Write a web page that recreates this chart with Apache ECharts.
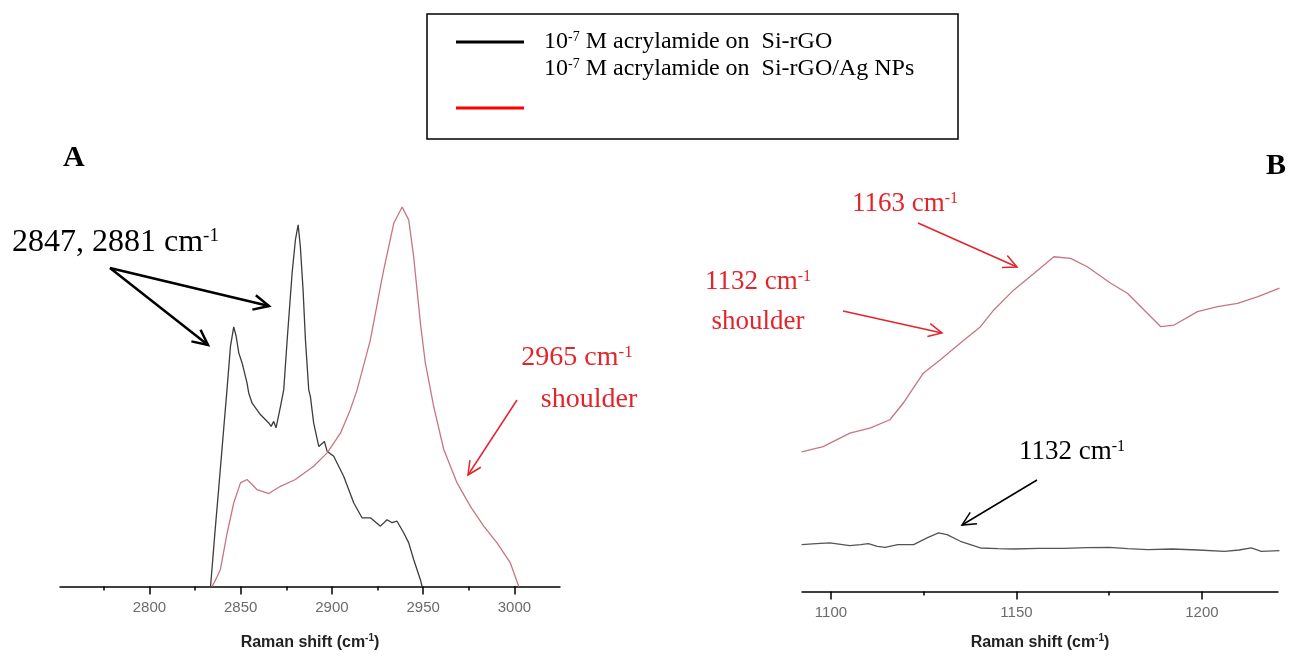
<!DOCTYPE html>
<html>
<head>
<meta charset="utf-8">
<script src="https://cdn.jsdelivr.net/npm/echarts@6/dist/echarts.min.js"></script>
<style>
html,body{margin:0;padding:0;background:#fff;}
#chart{width:1297px;height:656px;}
</style>
</head>
<body>
<div id="chart"></div>
<script>
// ---------- DATA ----------
// Panel A (2750-3025 cm-1)
var aTicks = [2800, 2850, 2900, 2950, 3000];
var aMinorTicks = [2775, 2825, 2875, 2925, 2975];
var aBlackX = [2833.5, 2836, 2838, 2840.7, 2842.5, 2844.4, 2846.2, 2847.5, 2849, 2850.8, 2853.5, 2854.4, 2856.3, 2860.8, 2865.4, 2866.7, 2868.1, 2869.4, 2871.8, 2873.6, 2875.5, 2878.2, 2880, 2881.5, 2882.7, 2884.2, 2885.5, 2887.3, 2888.2, 2890, 2892.8, 2895.9, 2897.4, 2901, 2906.5, 2912, 2916.5, 2921.1, 2926.6, 2930.2, 2933, 2935.7, 2939.4, 2942.1, 2944.8, 2948.5, 2949.4];
var aBlackY = [0, 14.8, 26, 41.5, 51.8, 63.2, 68.4, 66, 61.5, 58.9, 53.6, 51, 48.3, 45.3, 43.1, 42.2, 43.5, 41.8, 47.4, 51.8, 65, 82.6, 91.3, 95.3, 89.6, 78.2, 65, 51.8, 50.1, 43.1, 36.9, 38.2, 35.6, 34.3, 29, 22, 18.1, 18.1, 15.9, 17.6, 16.8, 17.2, 14.1, 11.5, 7.1, 1.8, 0];
var aRedX = [2834.4, 2836.5, 2838.9, 2842.6, 2846.2, 2849.9, 2853.5, 2856, 2859, 2865.4, 2871.8, 2880, 2890, 2897.4, 2904.7, 2910.1, 2913.8, 2921.1, 2926.6, 2928.4, 2933.9, 2938.5, 2942.1, 2944.8, 2948.5, 2951.2, 2955.8, 2961.3, 2968.6, 2975.9, 2983.2, 2990.5, 2997.8, 3002.4];
var aRedY = [0, 2, 4.5, 14.1, 22, 27.3, 28.2, 27, 25.5, 24.5, 26.4, 28.2, 31.7, 35.2, 40.4, 46.6, 51.8, 65, 79, 83.4, 95.7, 100, 96.6, 86.9, 69.4, 58.9, 47.4, 36.1, 27.3, 21.1, 15.9, 11.5, 6.2, 0];

// Panel B (1092-1220 cm-1)
var bTicks = [1100, 1150, 1200];
var bMinorTicks = [1125, 1175];
var bRedX = [1092.1, 1097.9, 1105.1, 1110.5, 1115.9, 1119.5, 1124.9, 1129.5, 1134.9, 1140.3, 1143.9, 1149.3, 1154.7, 1160.1, 1164.6, 1169.1, 1175.4, 1179.9, 1184.4, 1188.9, 1192.5, 1198.8, 1204.2, 1209.6, 1215.1, 1220.9];
var bRedY = [41.7, 43.3, 47.3, 48.8, 51.3, 56.3, 65.2, 69.2, 74.2, 79.1, 84.1, 90.1, 95.0, 100, 99.5, 97.0, 92.1, 89.1, 84.1, 79.1, 79.6, 83.6, 85.1, 86.1, 88.1, 90.6];
var bBlackX = [1092.1, 1096, 1099.7, 1105.1, 1108, 1110.1, 1112.5, 1114.6, 1118, 1122.3, 1125.9, 1129.0, 1131.3, 1134.9, 1140.3, 1145, 1149.3, 1156, 1162.8, 1169, 1175.0, 1180, 1185.4, 1192, 1199, 1206.1, 1210, 1213.3, 1216.0, 1220.9];
var bBlackY = [14.0, 14.3, 14.5, 13.7, 14.0, 14.3, 13.5, 13.2, 14.0, 14.0, 16.0, 17.5, 17.0, 15.0, 13.0, 12.8, 12.7, 12.9, 12.9, 13.1, 13.2, 12.8, 12.5, 12.7, 12.4, 12.0, 12.4, 13.0, 12.0, 12.2];

var xAxisName = 'Raman shift (cm';
var legendLabels = ['Si-rGO', 'Si-rGO/Ag NPs'];

// ---------- HELPERS ----------
function zip(xs, ys) { return xs.map(function (x, i) { return [x, ys[i]]; }); }
var SERIF = '"Liberation Serif", "Times New Roman", serif';
var SANS = '"Liberation Sans", Arial, sans-serif';
var RED_TXT = '#e3242b';
var RED_LINE = '#c77680';
var BLACK_LINE = '#3c3c3c';

function arrow(x1, y1, x2, y2, color, w, head, spread) {
  var ang = Math.atan2(y2 - y1, x2 - x1);
  var a1 = ang + Math.PI - spread, a2 = ang + Math.PI + spread;
  return [
    { type: 'line', shape: { x1: x1, y1: y1, x2: x2, y2: y2 }, style: { stroke: color, lineWidth: w } },
    { type: 'polyline', shape: { points: [[x2 + head * Math.cos(a1), y2 + head * Math.sin(a1)], [x2, y2], [x2 + head * Math.cos(a2), y2 + head * Math.sin(a2)]] },
      style: { stroke: color, lineWidth: w, fill: null } }
  ];
}
function supText(x, y, main, sup, size, color, align, weight) {
  return {
    type: 'text', x: x, y: y,
    style: {
      text: '{m|' + main + '}{s|' + sup + '}',
      textAlign: align || 'left', textVerticalAlign: 'middle',
      rich: {
        m: { fontFamily: SERIF, fontSize: size, fill: color, fontWeight: weight || 'normal', lineHeight: size },
        s: { fontFamily: SERIF, fontSize: Math.round(size * 0.6), fill: color, verticalAlign: 'top', lineHeight: Math.round(size * 0.6) }
      }
    }
  };
}
function plainText(x, y, txt, size, color, align, weight) {
  return { type: 'text', x: x, y: y,
    style: { text: txt, fontFamily: SERIF, fontSize: size, fill: color, fontWeight: weight || 'normal',
      textAlign: align || 'left', textVerticalAlign: 'middle' } };
}
function legendText(x, y, label, size) {
  return {
    type: 'text', x: x, y: y,
    style: {
      text: '{m|10}{s|-7}{m| M acrylamide on  ' + label + '}',
      textAlign: 'left', textVerticalAlign: 'middle',
      rich: {
        m: { fontFamily: SERIF, fontSize: size, fill: '#000', lineHeight: size },
        s: { fontFamily: SERIF, fontSize: Math.round(size * 0.6), fill: '#000', verticalAlign: 'top', lineHeight: Math.round(size * 0.6) }
      }
    }
  };
}

var nameRich = {
  a: { fontFamily: SANS, fontSize: 16, fontWeight: 'bold', color: '#222', lineHeight: 19 },
  s: { fontFamily: SANS, fontSize: 10, fontWeight: 'bold', color: '#222', verticalAlign: 'top', lineHeight: 10 }
};
var nameStr = '{a|' + xAxisName + '}{s|-1}{a|)}';

function mainAxis(grid, min, max, ticks, gap) {
  return {
    type: 'value', gridIndex: grid, min: min, max: max, position: 'bottom',
    axisLine: { show: true, onZero: false, lineStyle: { color: '#000', width: 1.5 } },
    axisTick: { show: true, customValues: ticks, length: 8, lineStyle: { color: '#000', width: 1.5 } },
    axisLabel: { customValues: ticks, color: '#6b6b6b', fontSize: 15, fontFamily: SANS, margin: 14,
      formatter: function (v) { return String(v); } },
    splitLine: { show: false },
    name: nameStr, nameLocation: 'middle', nameGap: gap,
    nameTextStyle: { rich: nameRich }
  };
}
function minorAxis(grid, min, max, ticks) {
  return {
    type: 'value', gridIndex: grid, min: min, max: max, position: 'bottom',
    axisLine: { show: false },
    axisTick: { show: true, customValues: ticks, length: 4, lineStyle: { color: '#000', width: 1.5 } },
    axisLabel: { show: false }, splitLine: { show: false }
  };
}

var graphics = [];
// legend box
graphics.push({ type: 'rect', shape: { x: 427, y: 14, width: 531, height: 125 }, style: { fill: null, stroke: '#000', lineWidth: 1.5 } });
graphics.push({ type: 'line', shape: { x1: 456, y1: 42, x2: 524, y2: 42 }, style: { stroke: '#000', lineWidth: 3 } });
graphics.push({ type: 'line', shape: { x1: 456, y1: 108, x2: 524, y2: 108 }, style: { stroke: '#ff0000', lineWidth: 3 } });
graphics.push(legendText(544, 42, legendLabels[0], 24));
graphics.push(legendText(544, 69, legendLabels[1], 24));
// panel letters
graphics.push(plainText(63, 158, 'A', 30, '#000', 'left', 'bold'));
graphics.push(plainText(1266, 166, 'B', 30, '#000', 'left', 'bold'));
// panel A annotations
graphics.push(supText(12, 243, '2847, 2881 cm', '-1', 32, '#000'));
graphics = graphics.concat(arrow(110, 268, 208, 345, '#000', 2.5, 17, 0.45));
graphics = graphics.concat(arrow(110, 268, 269, 306, '#000', 2.5, 17, 0.45));
graphics.push(supText(577, 358, '2965 cm', '-1', 28, RED_TXT, 'center'));
graphics.push(plainText(589, 400, 'shoulder', 28, RED_TXT, 'center'));
graphics = graphics.concat(arrow(517, 400, 468, 475, RED_TXT, 1.5, 15, 0.45));
// panel B annotations
graphics.push(supText(905, 204, '1163 cm', '-1', 27, RED_TXT, 'center'));
graphics = graphics.concat(arrow(918, 223, 1017, 267, RED_TXT, 1.5, 15, 0.45));
graphics.push(supText(758, 282, '1132 cm', '-1', 27, RED_TXT, 'center'));
graphics.push(plainText(758, 322, 'shoulder', 27, RED_TXT, 'center'));
graphics = graphics.concat(arrow(843, 311, 942, 333, RED_TXT, 1.5, 15, 0.45));
graphics.push(supText(1072, 452, '1132 cm', '-1', 27, '#000', 'center'));
graphics = graphics.concat(arrow(1037, 480, 962, 525, '#000', 1.5, 15, 0.45));

var chart = echarts.init(document.getElementById('chart'), null, { renderer: 'canvas' });
chart.setOption({
  animation: false,
  backgroundColor: '#fff',
  grid: [
    { left: 60, top: 199, width: 500, height: 388 },
    { left: 802, top: 240, width: 476, height: 352 }
  ],
  xAxis: [
    mainAxis(0, 2751, 3025, aTicks, 47),
    minorAxis(0, 2751, 3025, aMinorTicks),
    mainAxis(1, 1092.2, 1220.5, bTicks, 42),
    minorAxis(1, 1092.2, 1220.5, bMinorTicks)
  ],
  yAxis: [
    { type: 'value', gridIndex: 0, min: 0, max: 102.1, show: false },
    { type: 'value', gridIndex: 1, min: 0, max: 105, show: false }
  ],
  series: [
    { type: 'line', xAxisIndex: 0, yAxisIndex: 0, data: zip(aBlackX, aBlackY), showSymbol: false, lineStyle: { color: BLACK_LINE, width: 1.3 }, itemStyle: { color: BLACK_LINE } },
    { type: 'line', xAxisIndex: 0, yAxisIndex: 0, data: zip(aRedX, aRedY), showSymbol: false, lineStyle: { color: RED_LINE, width: 1.3 }, itemStyle: { color: RED_LINE } },
    { type: 'line', xAxisIndex: 2, yAxisIndex: 1, data: zip(bRedX, bRedY), showSymbol: false, lineStyle: { color: RED_LINE, width: 1.3 }, itemStyle: { color: RED_LINE } },
    { type: 'line', xAxisIndex: 2, yAxisIndex: 1, data: zip(bBlackX, bBlackY), showSymbol: false, lineStyle: { color: '#555', width: 1.3 }, itemStyle: { color: '#555' } }
  ],
  graphic: { elements: graphics }
});
</script>
</body>
</html>
